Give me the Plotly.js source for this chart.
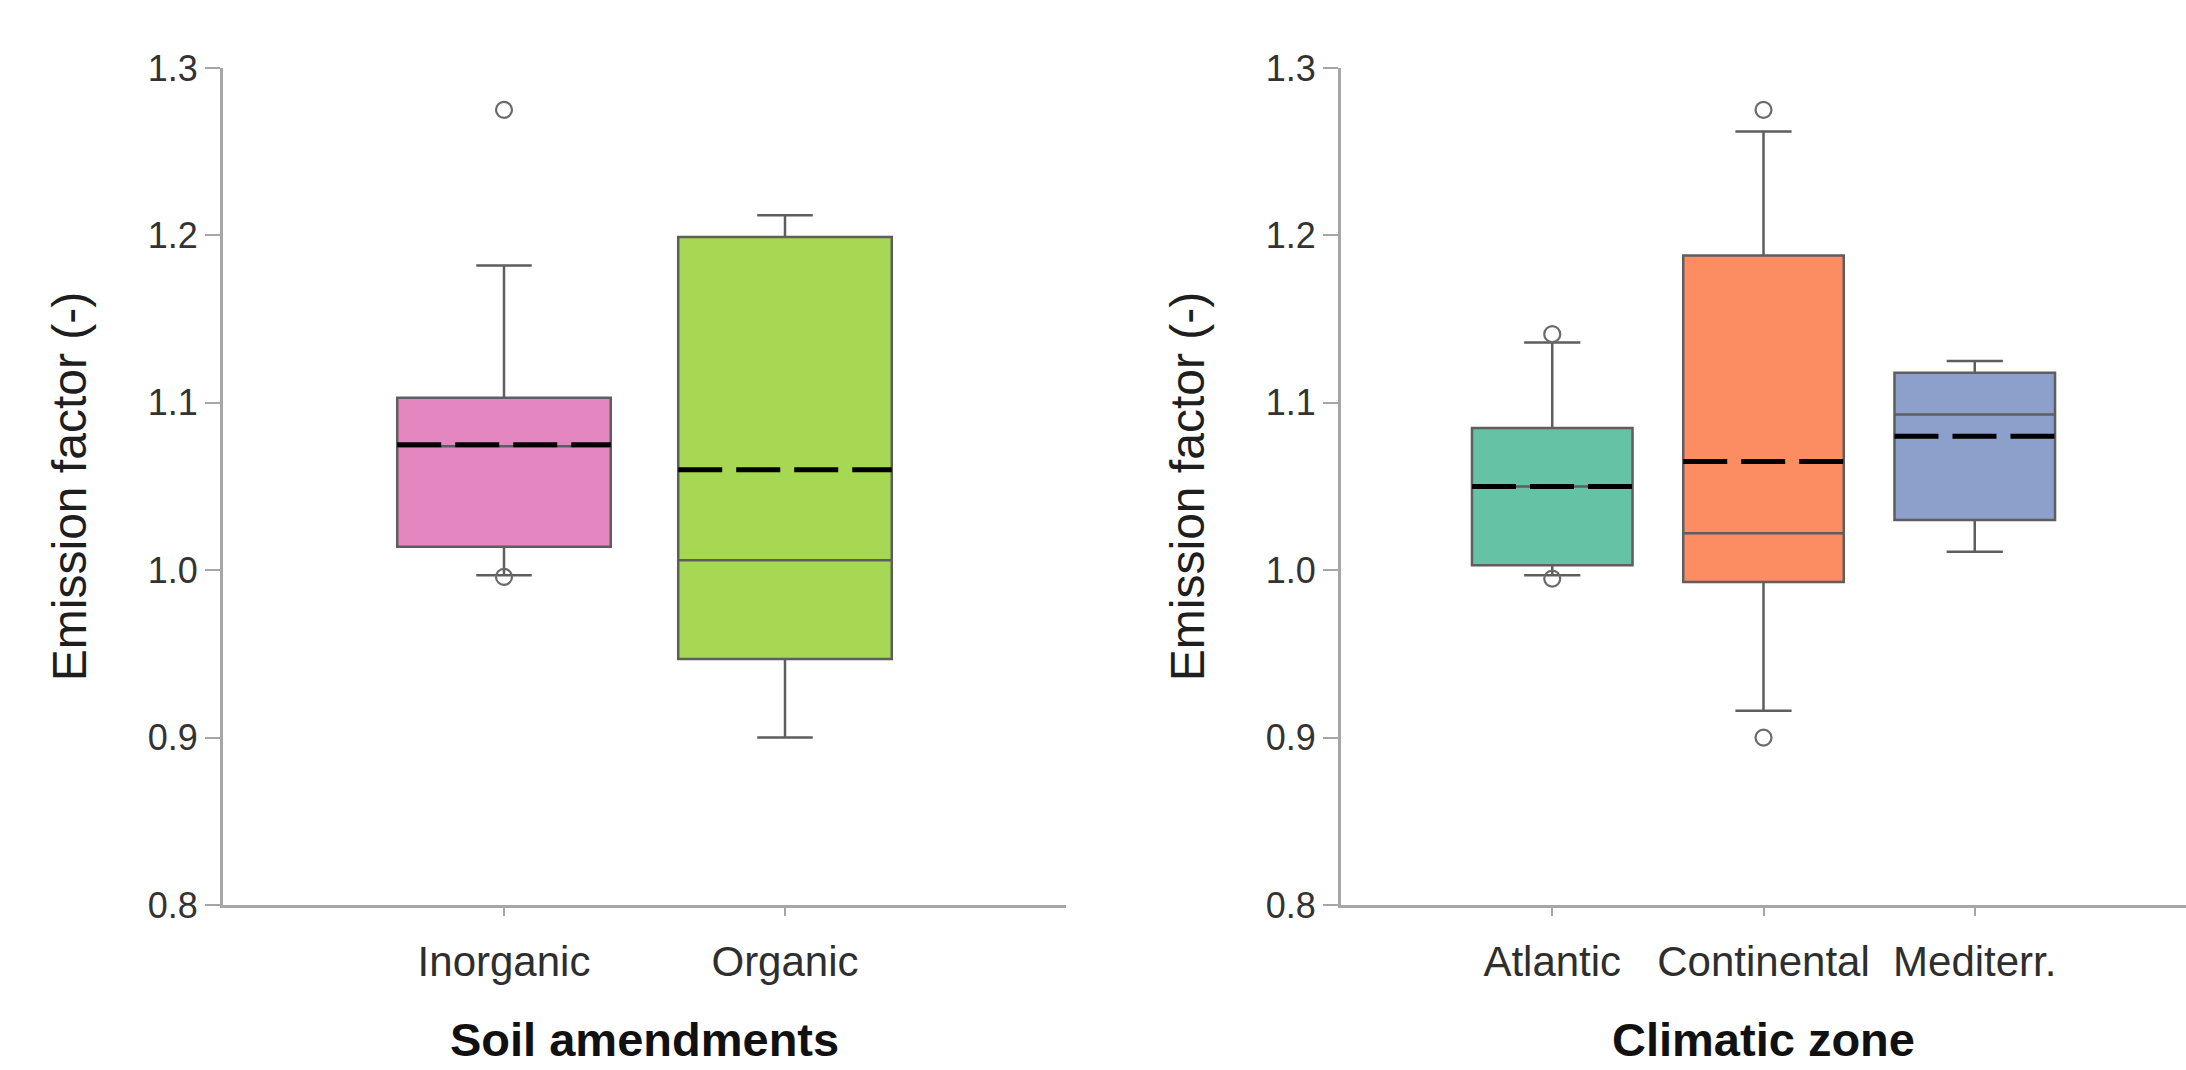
<!DOCTYPE html>
<html>
<head>
<meta charset="utf-8">
<script src="https://cdn.plot.ly/plotly-3.0.1.min.js"></script>
<style>html,body{margin:0;padding:0;background:#fff;}#chart{width:2186px;height:1070px;}</style>
</head>
<body>
<div id="chart"></div>
<script>
// ---- Panel 1: Soil amendments ----
const soilTitle = "Soil amendments";
const soilCategories = ["Inorganic", "Organic"];
const soilQ1 = [1.014, 0.947];
const soilMedian = [1.074, 1.006];
const soilQ3 = [1.103, 1.199];
const soilLowerWhisker = [0.997, 0.900];
const soilUpperWhisker = [1.182, 1.212];
const soilMean = [1.075, 1.060];
const soilOutliers = [[1.275, 0.996], []];
const soilColors = ["#E487C1", "#A6D854"];

// ---- Panel 2: Climatic zone ----
const climTitle = "Climatic zone";
const climCategories = ["Atlantic", "Continental", "Mediterr."];
const climQ1 = [1.003, 0.993, 1.030];
const climMedian = [1.050, 1.022, 1.093];
const climQ3 = [1.085, 1.188, 1.118];
const climLowerWhisker = [0.997, 0.916, 1.011];
const climUpperWhisker = [1.136, 1.262, 1.125];
const climMean = [1.050, 1.065, 1.080];
const climOutliers = [[1.141, 0.995], [1.275, 0.900], []];
const climColors = ["#66C2A5", "#FC8D62", "#8DA0CB"];

const yTitle = "Emission factor (-)";
const yTicks = [0.8, 0.9, 1.0, 1.1, 1.2, 1.3];

const BOX_W = 0.76;
const FONT = "Liberation Sans, Arial, sans-serif";

function panelTraces(cats, q1, med, q3, lo, hi, mean, outl, colors, xa, ya, whiskerW) {
  const traces = [];
  cats.forEach((c, i) => {
    traces.push({
      type: "box", name: c, x: [i], q1: [q1[i]], median: [med[i]], q3: [q3[i]],
      lowerfence: [lo[i]], upperfence: [hi[i]],
      width: BOX_W, whiskerwidth: whiskerW,
      fillcolor: colors[i], line: {color: "#5e5e5e", width: 2.5},
      boxpoints: false, xaxis: xa, yaxis: ya, showlegend: false, hoverinfo: "skip"
    });
  });
  cats.forEach((c, i) => {
    traces.push({
      type: "scatter", mode: "lines", x: [i - BOX_W / 2, i + BOX_W / 2], y: [mean[i], mean[i]],
      line: {color: "#000000", width: 5, dash: "44px,14px"},
      xaxis: xa, yaxis: ya, showlegend: false, hoverinfo: "skip"
    });
  });
  cats.forEach((c, i) => {
    if (outl[i].length) {
      traces.push({
        type: "scatter", mode: "markers", x: outl[i].map(() => i), y: outl[i],
        marker: {symbol: "circle-open", size: 16, color: "#6a6a6a", line: {width: 2.2, color: "#6a6a6a"}},
        xaxis: xa, yaxis: ya, showlegend: false, hoverinfo: "skip"
      });
    }
  });
  return traces;
}

const data = [
  ...panelTraces(soilCategories, soilQ1, soilMedian, soilQ3, soilLowerWhisker, soilUpperWhisker, soilMean, soilOutliers, soilColors, "x", "y", 0.26),
  ...panelTraces(climCategories, climQ1, climMedian, climQ3, climLowerWhisker, climUpperWhisker, climMean, climOutliers, climColors, "x2", "y2", 0.35)
];

const axisCommon = {
  showline: true, linecolor: "#a6a6a6", linewidth: 3, showgrid: false, zeroline: false,
  ticks: "outside", tickcolor: "#a6a6a6", tickwidth: 2
};
const yCommon = Object.assign({}, axisCommon, {
  range: [0.8, 1.3], tickvals: yTicks,
  ticktext: yTicks.map(v => v.toFixed(1)), ticklen: 15,
  tickfont: {family: FONT, size: 36, color: "#333333"},
  title: {text: yTitle, font: {family: FONT, size: 48, color: "#1e1e1e"}, standoff: 46}
});
const xCommon = Object.assign({}, axisCommon, {ticklen: 8, ticklabelstandoff: 10,
  tickfont: {family: FONT, size: 42, color: "#2e2e2e"}});

function xTitleAnn(text, xref) {
  return {text: "<b>" + text + "</b>", xref: xref, yref: "paper", x: 0.5, y: 0,
    xanchor: "center", yanchor: "top", yshift: -106, showarrow: false,
    font: {family: FONT, size: 47, color: "#111111"}};
}

const layout = {
  width: 2186, height: 1070,
  margin: {l: 0, r: 0, t: 68, b: 165},
  paper_bgcolor: "#ffffff", plot_bgcolor: "#ffffff",
  showlegend: false,
  xaxis: Object.assign({}, xCommon, {
    domain: [223 / 2186, 1066 / 2186], range: [-1, soilCategories.length],
    tickvals: soilCategories.map((c, i) => i), ticktext: soilCategories, anchor: "y"
  }),
  yaxis: Object.assign({}, yCommon, {anchor: "x"}),
  xaxis2: Object.assign({}, xCommon, {
    domain: [1341 / 2186, 1], range: [-1, climCategories.length],
    tickvals: climCategories.map((c, i) => i), ticktext: climCategories, anchor: "y2"
  }),
  yaxis2: Object.assign({}, yCommon, {anchor: "x2"}),
  annotations: [xTitleAnn(soilTitle, "x domain"), xTitleAnn(climTitle, "x2 domain")]
};

Plotly.newPlot("chart", data, layout, {staticPlot: true, displayModeBar: false});
</script>
</body>
</html>
